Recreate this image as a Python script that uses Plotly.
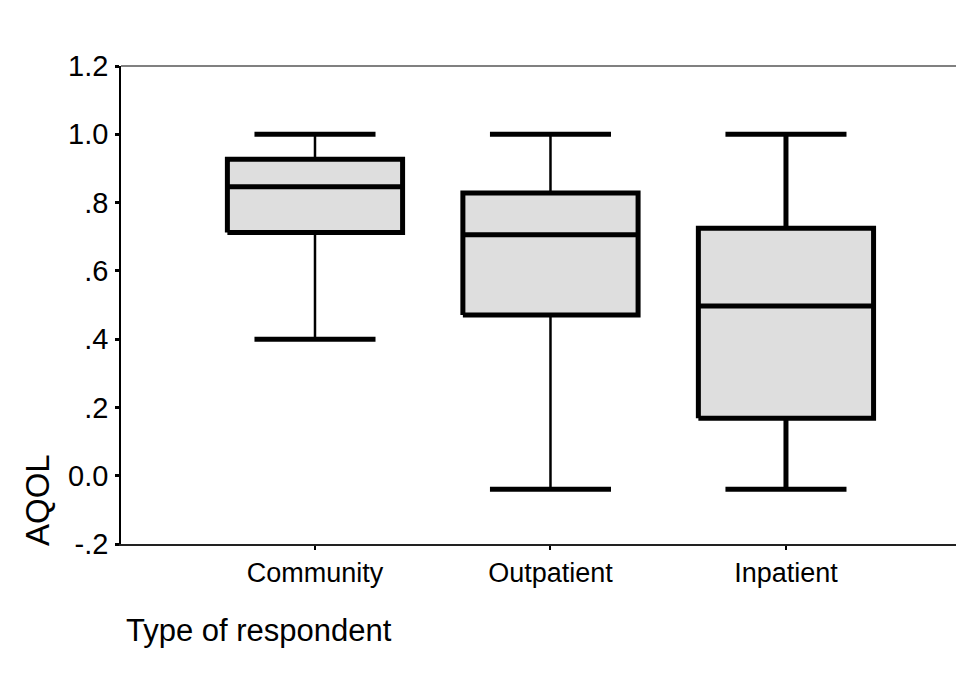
import plotly.graph_objects as go

categories = ["Community", "Outpatient", "Inpatient"]
lower_whisker = [0.40, -0.04, -0.04]
q1 = [0.712, 0.471, 0.168]
median = [0.846, 0.706, 0.497]
q3 = [0.927, 0.828, 0.725]
upper_whisker = [1.0, 1.0, 1.0]
stem_widths = [2.5, 2.5, 5]

y_tickvals = [1.2, 1.0, 0.8, 0.6, 0.4, 0.2, 0.0, -0.2]
y_ticktext = ["1.2", "1.0", ".8", ".6", ".4", ".2", "0.0", "-.2"]

FONT = "Liberation Sans, Arial, sans-serif"
BOX_HALF = 0.372
CAP_HALF = 0.257
LW = 5

fig = go.Figure()
positions = list(range(len(categories)))
for i, c in enumerate(positions):
    # whisker stems
    fig.add_trace(go.Scatter(
        x=[c, c, None, c, c],
        y=[lower_whisker[i], q1[i], None, q3[i], upper_whisker[i]],
        mode="lines", line=dict(color="black", width=stem_widths[i]),
        hoverinfo="skip", showlegend=False))
    # caps
    fig.add_trace(go.Scatter(
        x=[c - CAP_HALF, c + CAP_HALF, None, c - CAP_HALF, c + CAP_HALF],
        y=[lower_whisker[i], lower_whisker[i], None, upper_whisker[i], upper_whisker[i]],
        mode="lines", line=dict(color="black", width=LW),
        hoverinfo="skip", showlegend=False))
    # box
    fig.add_trace(go.Scatter(
        x=[c - BOX_HALF, c + BOX_HALF, c + BOX_HALF, c - BOX_HALF, c - BOX_HALF],
        y=[q1[i], q1[i], q3[i], q3[i], q1[i]],
        mode="lines", fill="toself", fillcolor="#dedede",
        line=dict(color="black", width=LW),
        hoverinfo="skip", showlegend=False))
    # median
    fig.add_trace(go.Scatter(
        x=[c - BOX_HALF, c + BOX_HALF], y=[median[i], median[i]],
        mode="lines", line=dict(color="black", width=LW),
        hoverinfo="skip", showlegend=False))

fig.update_layout(
    width=964, height=676,
    margin=dict(l=113, r=0, t=58, b=140),
    paper_bgcolor="white", plot_bgcolor="white",
    font=dict(family=FONT, color="black"),
    showlegend=False,
    xaxis=dict(
        range=[-0.8238, 2.790],
        tickvals=positions, ticktext=categories,
        tickfont=dict(size=27, family=FONT),
        ticks="outside", ticklen=4, tickwidth=2, tickcolor="black",
        showline=True, linecolor="#222222", linewidth=1.5,
        showgrid=False, zeroline=False, fixedrange=True,
    ),
    yaxis=dict(
        range=[-0.2, 1.2],
        tickvals=y_tickvals, ticktext=y_ticktext,
        tickfont=dict(size=29, family=FONT),
        ticks="outside", ticklen=4, tickwidth=3, tickcolor="black",
        ticklabelstandoff=1,
        showline=True, linecolor="black", linewidth=1.5,
        showgrid=False, zeroline=False, fixedrange=True,
    ),
    shapes=[dict(type="line", xref="paper", yref="paper", x0=0, x1=1, y0=1, y1=1,
                 line=dict(color="#808080", width=2))],
    annotations=[
        dict(text="AQOL", xref="paper", yref="paper", x=(29 - 113) / 851, y=0.092,
             xanchor="center", yanchor="middle", textangle=-90, showarrow=False,
             font=dict(size=33, family=FONT, color="black")),
        dict(text="Type of respondent", xref="paper", yref="paper", x=(116 - 113) / 851, y=-0.18,
             xanchor="left", yanchor="middle", showarrow=False,
             font=dict(size=31, family=FONT, color="black")),
    ],
)

fig.write_html("out.html")
